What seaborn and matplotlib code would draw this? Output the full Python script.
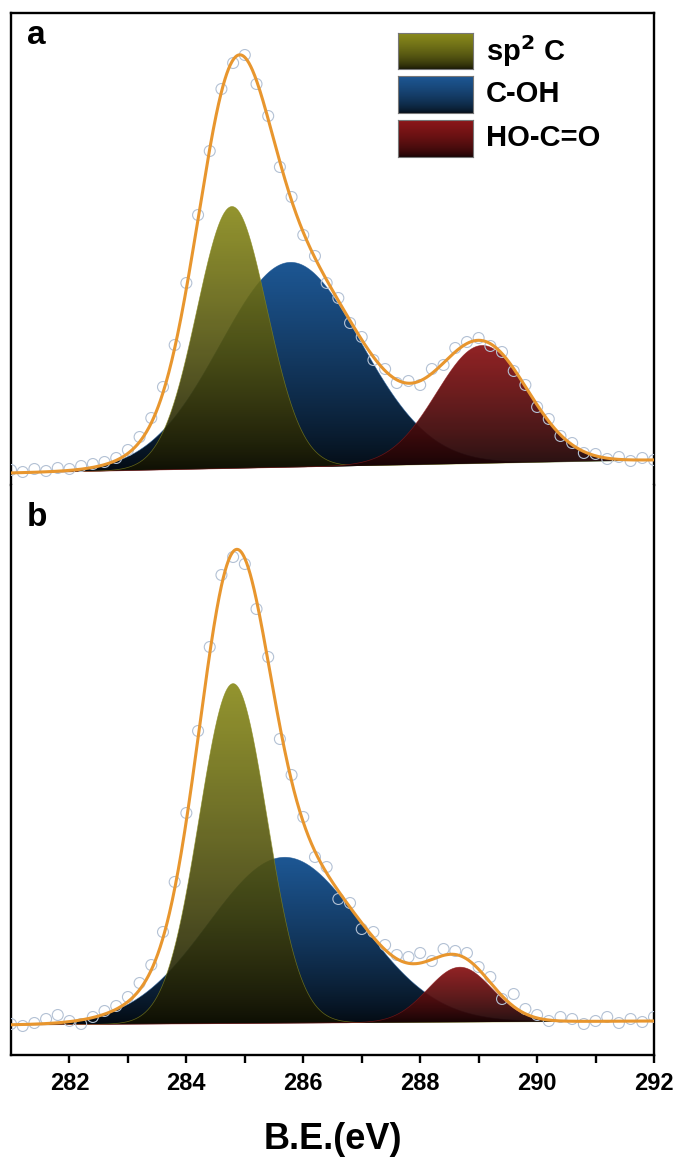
import numpy as np
import matplotlib
matplotlib.use("Agg")
import matplotlib.pyplot as plt
import seaborn as sns
from matplotlib.colors import to_rgb
from matplotlib.patches import PathPatch

# ---------------- data ----------------
be_points = [281.0, 281.2, 281.4, 281.6, 281.8, 282.0, 282.2, 282.4, 282.6, 282.8,
             283.0, 283.2, 283.4, 283.6, 283.8, 284.0, 284.2, 284.4, 284.6, 284.8,
             285.0, 285.2, 285.4, 285.6, 285.8, 286.0, 286.2, 286.4, 286.6, 286.8,
             287.0, 287.2, 287.4, 287.6, 287.8, 288.0, 288.2, 288.4, 288.6, 288.8,
             289.0, 289.2, 289.4, 289.6, 289.8, 290.0, 290.2, 290.4, 290.6, 290.8,
             291.0, 291.2, 291.4, 291.6, 291.8, 292.0]

counts_a = [3, 1, 4, 2, 5, 4, 7, 9, 11, 15,
            23, 36, 55, 86, 128, 190, 258, 322, 384, 410,
            418, 389, 357, 306, 276, 238, 217, 190, 175, 150,
            136, 113, 104, 90, 92, 88, 104, 108, 125, 131,
            135, 127, 121, 102, 88, 66, 54, 37, 30, 20,
            19, 14, 16, 12, 15, 13]

counts_b = [3, 1, 4, 8, 12, 6, 3, 10, 16, 21,
            30, 44, 62, 95, 145, 214, 296, 380, 452, 470,
            463, 418, 370, 288, 252, 210, 170, 160, 128, 124,
            98, 95, 82, 72, 70, 74, 66, 78, 76, 74,
            60, 50, 28, 33, 18, 12, 6, 10, 8, 3,
            6, 10, 4, 8, 5, 10]

components = ["sp$^{2}$ C", "C-OH", "HO-C=O"]
comp_colors = ["#8a8b1c", "#1d5794", "#8c1719"]

# fitted component parameters: centre (eV), height (a.u.), sigma (eV)
centers_a = [284.78, 285.78, 289.06]
heights_a = [262, 205, 118]
sigmas_a = [0.60, 1.20, 0.78]
background_a = [0.0, 13.0]          # linear background at 281 and 292 eV

centers_b = [284.80, 285.68, 288.68]
heights_b = [340, 166, 55]
sigmas_b = [0.58, 1.30, 0.55]
background_b = [2.0, 6.0]

x_range = [281, 292]
xticks = [282, 284, 286, 288, 290, 292]
panel_labels = ["a", "b"]

# ---------------- style ----------------
sns.set_theme(style="white")
plt.rcParams["font.family"] = ["Liberation Sans", "DejaVu Sans"]
plt.rcParams["font.weight"] = "bold"
plt.rcParams["text.color"] = "black"
plt.rcParams["axes.labelcolor"] = "black"
plt.rcParams["xtick.color"] = "black"
plt.rcParams["mathtext.default"] = "bf"

fig = plt.figure(figsize=(6.81, 11.66), dpi=100)
W, H = 681, 1166
L, R = 11 / W, 654 / W
ax_a = fig.add_axes([L, 1 - 485 / H, R - L, (485 - 13) / H])
ax_b = fig.add_axes([L, 1 - 1055 / H, R - L, (1055 - 485) / H], sharex=ax_a)

xf = np.linspace(x_range[0], x_range[1], 1101)


def gauss(x, c, h, s):
    return h * np.exp(-((x - c) ** 2) / (2 * s ** 2))


def gradient_fill(ax, x, lower, upper, color, alpha, zorder):
    poly = ax.fill_between(x, lower, upper, facecolor="none", edgecolor="none")
    path = poly.get_paths()[0]
    patch = PathPatch(path, transform=ax.transData, facecolor="none", edgecolor="none")
    ax.add_patch(patch)
    c = np.array(to_rgb(color))
    dark = c * 0.10
    t = np.linspace(0, 1, 256)[:, None]
    img = dark + (c - dark) * (t ** 0.8)
    img = img[:, None, :]
    im = ax.imshow(img, extent=[x.min(), x.max(), lower.min(), upper.max()],
                   origin="lower", aspect="auto", alpha=alpha, zorder=zorder,
                   interpolation="bilinear")
    im.set_clip_path(patch)
    ax.plot(x, upper, color=color, lw=0.5, alpha=0.7, zorder=zorder)


def draw_panel(ax, centers, heights, sigmas, bgpar, counts, ylim, label):
    bg = bgpar[0] + (bgpar[1] - bgpar[0]) * (xf - x_range[0]) / (x_range[1] - x_range[0])
    comps = [gauss(xf, c, h, s) for c, h, s in zip(centers, heights, sigmas)]
    # draw order: C-OH (back), sp2 C, HO-C=O
    gradient_fill(ax, xf, bg, bg + comps[1], comp_colors[1], 1.0, 2)
    gradient_fill(ax, xf, bg, bg + comps[0], comp_colors[0], 0.92, 3)
    gradient_fill(ax, xf, bg, bg + comps[2], comp_colors[2], 0.95, 3)
    env = bg + comps[0] + comps[1] + comps[2]
    sns.scatterplot(x=be_points, y=counts, ax=ax, marker="o", s=62,
                    facecolors="none", edgecolor="#b3c1d4", linewidth=0.8,
                    zorder=4, legend=False)
    sns.lineplot(x=xf, y=env, ax=ax, color="#e8962e", lw=2.2, zorder=5,
                 sort=False, estimator=None)
    ax.set_xlim(*x_range)
    ax.set_ylim(*ylim)
    ax.set_yticks([])
    ax.set_ylabel("")
    for sp in ax.spines.values():
        sp.set_color("black")
        sp.set_linewidth(1.7)
    ax.text(0.025, 0.985 if label == "a" else 0.97, label, transform=ax.transAxes,
            fontsize=24, fontweight="bold", va="top", ha="left", color="black")


draw_panel(ax_a, centers_a, heights_a, sigmas_a, background_a, counts_a, (-12, 460), "a")
draw_panel(ax_b, centers_b, heights_b, sigmas_b, background_b, counts_b, (-28, 542), "b")

ax_a.spines["bottom"].set_visible(False)
ax_b.spines["top"].set_visible(False)
ax_a.tick_params(axis="x", bottom=False, labelbottom=False)

ax_b.set_xticks(xticks)
ax_b.set_xticks([283, 285, 287, 289, 291], minor=True)
ax_b.tick_params(axis="x", which="both", direction="out", length=6, width=1.7,
                 bottom=True, top=False, labelsize=17, pad=6, colors="black")
for t in ax_b.get_xticklabels():
    t.set_fontweight("bold")
ax_b.set_xlabel("B.E.(eV)", fontsize=26, fontweight="bold", labelpad=20, color="black")

# ---------------- legend with gradient patches ----------------
leg_rows = [(33, 69), (76, 113), (120, 157)]
for name, col, (y0, y1) in zip(components, comp_colors, leg_rows):
    lax = fig.add_axes([398 / W, 1 - y1 / H, 75 / W, (y1 - y0) / H])
    c = np.array(to_rgb(col))
    dark = c * 0.15
    t = np.linspace(0, 1, 64)[:, None]
    img = (dark + (c - dark) * t ** 0.6)[:, None, :]
    lax.imshow(img, origin="lower", aspect="auto", extent=[0, 1, 0, 1])
    lax.set_xticks([])
    lax.set_yticks([])
    for sp in lax.spines.values():
        sp.set_color("#777777")
        sp.set_linewidth(0.8)
    fig.text(486 / W, 1 - (y0 + y1) / 2 / H, name, fontsize=21, fontweight="bold",
             va="center", ha="left", color="black")

fig.savefig("out.png", dpi=100)
